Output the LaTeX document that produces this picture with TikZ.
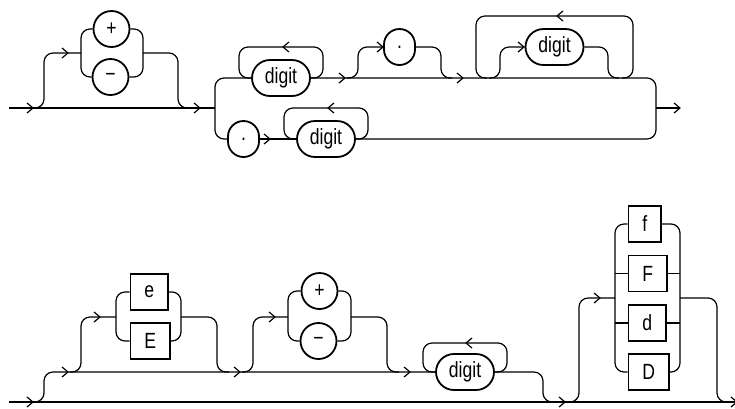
\documentclass[tikz,border=0pt]{standalone}
\usepackage{fontspec}
\setmainfont{Liberation Sans}[FakeStretch=0.8]
\newcommand\myRA[2]{\draw[conn] (#1-6,#2-5) -- (#1,#2) -- (#1-6,#2+5);}
\newcommand\myLA[2]{\draw[conn] (#1+6,#2-5) -- (#1,#2) -- (#1+6,#2+5);}
\begin{document}
\begin{tikzpicture}[x=1pt,y=-1pt,
  conn/.style={line width=1.2pt, line join=round},
  rc/.style={conn, rounded corners=9pt},
  nd/.style={draw, line width=1.8pt, font=\fontsize{22}{22}\selectfont, inner sep=0pt},
  rnd/.style={nd, circle, minimum size=36pt},
  dotn/.style={nd, rectangle, rounded corners=15.5pt, minimum width=31pt, minimum height=36pt},
  dig/.style={nd, rectangle, rounded corners=18pt, minimum height=36pt, minimum width=58pt},
  kw/.style={nd, rectangle, minimum height=36pt, inner xsep=14pt, anchor=west},
]
\useasboundingbox (0,0) rectangle (735,408);

% ---------- top diagram ----------
\node[rnd] (p1) at (111.5,29) {+};
\node[rnd] (m1) at (110.5,77) {−};
\node[dig] (d1) at (281,78) {digit};
\node[dotn] (dot1) at (399.5,47) {.};
\node[dig] (d2) at (554.5,47) {digit};
\node[dotn] (dot2) at (243.5,139) {.};
\node[dig] (d3) at (326,139) {digit};
\coordinate (s1) at (9,108);
\coordinate (e1) at (680,108);

\draw[conn] (s1) -- (215,108);
\myRA{33}{108}
\myRA{200}{108}
% sign branch
\draw[rc] (33,108) -- (44,108) -- (44,53) -- (81,53);
\myRA{68}{53}
\draw[rc] (p1.west) -- (81,29) -- (81,77) -- (m1.west);
\draw[rc] (p1.east) -- (143,29) -- (143,77) -- (m1.east);
\draw[rc] (143,53) -- (178,53) -- (178,108) -- (190,108);
% big bracket
\draw[rc] (d1.west) -- (215,78) -- (215,139) -- (dot2.west);
\draw[rc] (d1.east) -- (656,78) -- (656,139) -- (d3.east);
\draw[conn] (656,108) -- (e1);
\myRA{680}{108}
% loop over d1
\draw[rc] (d1.east) -- (323,78) -- (323,47) -- (239,47) -- (239,78) -- (d1.west);
\myLA{283}{47}
\myRA{345}{78}
% optional dot
\draw[rc] (347,78) -- (358,78) -- (358,47) -- (dot1.west);
\myRA{383}{47}
\draw[rc] (dot1.east) -- (441,47) -- (441,78) -- (452,78);
\myRA{463}{78}
% optional repeated digit
\draw[rc] (622,78) -- (633,78) -- (633,16) -- (476,16) -- (476,78) -- (487,78);
\myLA{557}{16}
\draw[rc] (489,78) -- (500,78) -- (500,47) -- (d2.west);
\myRA{524}{47}
\draw[rc] (d2.east) -- (608,47) -- (608,78) -- (619,78);
% lower row
\draw[conn] (dot2.east) -- (d3.west);
\myRA{270}{139}
\draw[rc] (d3.east) -- (368,139) -- (368,108) -- (284,108) -- (284,139) -- (d3.west);
\myLA{328}{108}

% ---------- bottom diagram ----------
\node[kw] (e) at (129.5,292) {e};
\node[kw] (E) at (129.5,341) {E};
\node[rnd] (p2) at (319.5,291) {+};
\node[rnd] (m2) at (318.5,341) {−};
\node[dig] (d4) at (465,372) {digit};
\node[kw] (f) at (627.5,224) {f};
\node[kw] (F) at (627.5,273.5) {F};
\node[kw] (d) at (627.5,323) {d};
\node[kw] (D) at (627.5,372) {D};
\coordinate (s2) at (9,402);
\coordinate (e2) at (737,402);

\draw[conn] (s2) -- (e2);
\myRA{33}{402}
\myRA{565}{402}
\myRA{737}{402}
% exponent branch
\draw[rc] (33,402) -- (44,402) -- (44,372) -- (d4.west);
\draw[rc] (d4.east) -- (543,372) -- (543,402) -- (555,402);
\myRA{68}{372}
\myRA{240}{372}
\myRA{410}{372}
% e / E
\draw[rc] (70,372) -- (81,372) -- (81,317) -- (116,317);
\myRA{100}{317}
\draw[rc] (e.west) -- (116,292) -- (116,341) -- (E.west);
\draw[rc] (e.east) -- (181,292) -- (181,341) -- (E.east);
\draw[rc] (181,317) -- (217,317) -- (217,372) -- (229,372);
% sign
\draw[rc] (242,372) -- (253,372) -- (253,317) -- (288,317);
\myRA{275}{317}
\draw[rc] (p2.west) -- (288,291) -- (288,341) -- (m2.west);
\draw[rc] (p2.east) -- (351,291) -- (351,341) -- (m2.east);
\draw[rc] (351,317) -- (387,317) -- (387,372) -- (399,372);
% digit loop
\draw[rc] (d4.east) -- (507,372) -- (507,343) -- (423,343) -- (423,372) -- (d4.west);
\myLA{466}{343}
% suffix
\draw[rc] (567,402) -- (579,402) -- (579,298) -- (615,298);
\myRA{600}{298}
\draw[rc] (f.west) -- (615,224) -- (615,372) -- (D.west);
\draw[rc] (f.east) -- (680,224) -- (680,372) -- (D.east);
\draw[conn] (615,273.5) -- (F.west);
\draw[conn] (F.east) -- (680,273.5);
\draw[conn] (615,323) -- (d.west);
\draw[conn] (d.east) -- (680,323);
\draw[rc] (680,298) -- (717,298) -- (717,402) -- (729,402);
\end{tikzpicture}
\end{document}
